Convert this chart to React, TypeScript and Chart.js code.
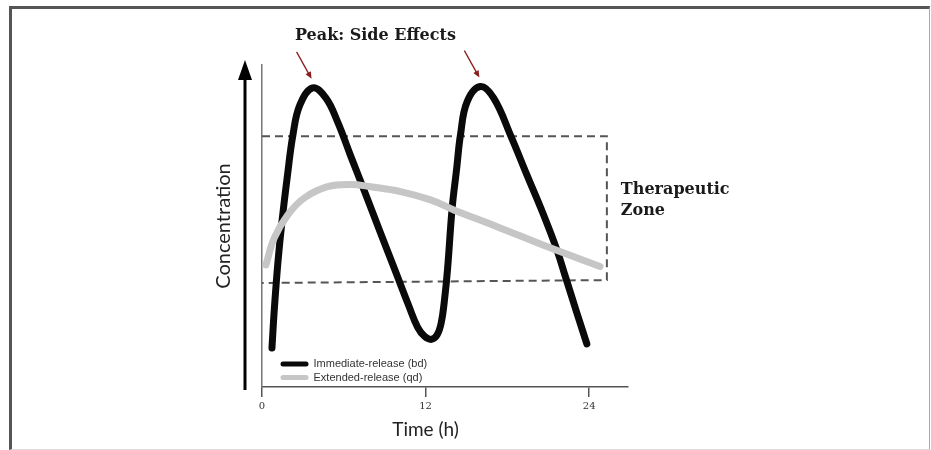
import React, { useEffect, useRef } from "react";
import { Chart, registerables } from "chart.js";

Chart.register(...registerables);

// ---- data ----
const timeTicks = [0, 12, 24];
const timeMax = 26.85;
const concMax = 100;

const immediateTimes = [0.73, 0.91, 1.17, 1.46, 1.87, 2.27, 2.78, 3.71, 4.68, 5.54, 6.51, 7.61, 8.71, 9.81, 10.76, 11.41, 11.93, 12.44, 12.85, 13.15, 13.4, 13.62, 13.95, 14.27, 14.56, 15.05, 16.02, 17.0, 18.22, 19.44, 20.66, 21.64, 22.24, 23.1, 23.83];
const immediateConc = [12.1, 24.5, 38.8, 51.2, 65.8, 78.3, 87.6, 92.9, 89.8, 82.4, 71.7, 59.8, 47.7, 35.7, 25.3, 18.6, 15.7, 14.8, 16.2, 20.0, 27.5, 37.0, 55.6, 67.4, 78.3, 88.6, 93.3, 89.7, 78.3, 65.8, 53.4, 42.5, 34.5, 23.0, 13.4];

const extendedTimes = [0.29, 0.9, 1.88, 3.1, 4.81, 6.51, 7.98, 10.17, 12.37, 14.07, 17.25, 20.9, 24.8];
const extendedConc = [37.9, 46.3, 53.4, 58.7, 62.2, 62.9, 62.2, 60.7, 58.1, 55.0, 49.8, 43.6, 37.4];

const zoneTimes = [0, 25.3, 25.3, 0];
const zoneConc = [77.9, 77.9, 33.2, 32.3];

const seriesLabels = ["Immediate-release (bd)", "Extended-release (qd)"];
const peakLabel = "Peak: Side Effects";
const zoneLabelLines = ["Therapeutic", "Zone"];
const xTitle = "Time (h)";
const yTitle = "Concentration";

const toPoints = (xs: number[], ys: number[]) => xs.map((x, i) => ({ x, y: ys[i] }));

export default function App() {
  const ref = useRef<HTMLCanvasElement>(null);

  useEffect(() => {
    const overlay = {
      id: "overlay",
      afterDraw(chart: any) {
        const ctx = chart.ctx as CanvasRenderingContext2D;
        const { left: L, top: T, bottom: B } = chart.chartArea;
        const xs = chart.scales.x;
        const ys = chart.scales.y;
        ctx.save();

        // big y arrow
        const ax = L - 17;
        ctx.strokeStyle = "#000";
        ctx.fillStyle = "#000";
        ctx.lineWidth = 3;
        ctx.beginPath();
        ctx.moveTo(ax, B + 3);
        ctx.lineTo(ax, T + 14);
        ctx.stroke();
        ctx.beginPath();
        ctx.moveTo(ax, T - 5);
        ctx.lineTo(ax - 7, T + 15);
        ctx.lineTo(ax + 7, T + 15);
        ctx.closePath();
        ctx.fill();

        // y title
        ctx.save();
        ctx.translate(L - 38.5, (T + B) / 2);
        ctx.rotate(-Math.PI / 2);
        ctx.font = "20px Lato";
        ctx.fillStyle = "#222";
        ctx.textAlign = "center";
        ctx.textBaseline = "middle";
        ctx.fillText(yTitle, 0, 0);
        ctx.restore();

        // x title
        ctx.font = "19px Lato";
        ctx.fillStyle = "#222";
        ctx.textAlign = "center";
        ctx.textBaseline = "alphabetic";
        ctx.fillText(xTitle, xs.getPixelForValue(timeTicks[1]), B + 49);

        // legend
        const ds = chart.data.datasets.filter((d: any) => d.label);
        const order = [1, 0];
        order.forEach((di, row) => {
          const d = ds[di];
          if (!d) return;
          const y = B - 23 + row * 13.5;
          ctx.strokeStyle = d.borderColor;
          ctx.lineWidth = 5;
          ctx.lineCap = "round";
          ctx.beginPath();
          ctx.moveTo(L + 21, y);
          ctx.lineTo(L + 44, y);
          ctx.stroke();
          ctx.font = "11px 'Liberation Sans'";
          ctx.fillStyle = "#333";
          ctx.textAlign = "left";
          ctx.textBaseline = "middle";
          ctx.fillText(d.label, L + 51.5, y);
        });

        // peaks & arrows
        const peaks: { x: number; y: number }[] = [];
        for (let i = 1; i < immediateConc.length - 1; i++) {
          if (immediateConc[i] > immediateConc[i - 1] && immediateConc[i] > immediateConc[i + 1]) {
            peaks.push({ x: xs.getPixelForValue(immediateTimes[i]), y: ys.getPixelForValue(immediateConc[i]) });
          }
        }
        ctx.strokeStyle = "#8b1e1e";
        ctx.fillStyle = "#8b1e1e";
        ctx.lineWidth = 1.3;
        ctx.lineCap = "butt";
        peaks.forEach((p) => {
          const tx = p.x - 1;
          const ty = p.y - 9;
          const sx = p.x - 16;
          const sy = p.y - 36;
          const ang = Math.atan2(ty - sy, tx - sx);
          ctx.beginPath();
          ctx.moveTo(sx, sy);
          ctx.lineTo(tx - 4 * Math.cos(ang), ty - 4 * Math.sin(ang));
          ctx.stroke();
          ctx.beginPath();
          ctx.moveTo(tx, ty);
          ctx.lineTo(tx - 7 * Math.cos(ang) + 3 * Math.sin(ang), ty - 7 * Math.sin(ang) - 3 * Math.cos(ang));
          ctx.lineTo(tx - 7 * Math.cos(ang) - 3 * Math.sin(ang), ty - 7 * Math.sin(ang) + 3 * Math.cos(ang));
          ctx.closePath();
          ctx.fill();
        });
        ctx.font = "bold 16px 'DejaVu Serif'";
        ctx.fillStyle = "#1a1a1a";
        ctx.textAlign = "left";
        ctx.textBaseline = "alphabetic";
        ctx.fillText(peakLabel, L + 33, T - 25);

        // therapeutic zone label
        const zx = xs.getPixelForValue(zoneTimes[1]) + 14;
        const zy = ys.getPixelForValue(zoneConc[0]);
        ctx.font = "bold 16px 'DejaVu Serif'";
        zoneLabelLines.forEach((line, i) => ctx.fillText(line, zx, zy + 58 + i * 21));

        ctx.restore();
      },
    };

    const chart = new Chart(ref.current!, {
      type: "line",
      data: {
        datasets: [
          {
            label: seriesLabels[1],
            data: toPoints(extendedTimes, extendedConc),
            borderColor: "#c6c6c6",
            borderWidth: 7,
            pointRadius: 0,
            tension: 0.4,
            borderCapStyle: "round",
            borderJoinStyle: "round",
            fill: false,
          },
          {
            label: seriesLabels[0],
            data: toPoints(immediateTimes, immediateConc),
            borderColor: "#0a0a0a",
            borderWidth: 7,
            pointRadius: 0,
            tension: 0.4,
            borderCapStyle: "round",
            borderJoinStyle: "round",
            fill: false,
          },
          {
            label: "",
            data: toPoints(zoneTimes, zoneConc),
            borderColor: "#555",
            borderWidth: 2,
            borderDash: [8, 5],
            pointRadius: 0,
            tension: 0,
            fill: false,
          },
        ],
      } as any,
      options: {
        animation: false,
        responsive: false,
        devicePixelRatio: 1,
        layout: { padding: { left: 254, top: 65, right: 303, bottom: 35 } },
        plugins: { legend: { display: false }, tooltip: { enabled: false } },
        scales: {
          x: {
            type: "linear",
            min: 0,
            max: timeMax,
            afterBuildTicks: (scale: any) => {
              scale.ticks = timeTicks.map((v) => ({ value: v }));
            },
            grid: { display: true, drawOnChartArea: false, drawTicks: true, tickLength: 10, color: "#555", lineWidth: 1.5 },
            border: { display: true, color: "#555", width: 1.5 },
            ticks: { padding: 3, color: "#333", font: { family: "'DejaVu Serif'", size: 10 }, maxRotation: 0 },
          },
          y: {
            type: "linear",
            min: 0,
            max: concMax,
            grid: { display: false },
            border: { display: true, color: "#777", width: 1.5 },
            ticks: { display: false },
          },
        },
      } as any,
      plugins: [overlay],
    });
    return () => chart.destroy();
  }, []);

  return (
    <div style={{ position: "fixed", left: 0, top: 0, width: 931, height: 450, background: "#fff" }}>
      <div
        style={{
          position: "absolute",
          left: 9,
          top: 6,
          width: 921,
          height: 444,
          boxSizing: "border-box",
          borderTop: "3px solid #555",
          borderLeft: "3px solid #555",
          borderRight: "1px solid #aaa",
          borderBottom: "1px solid #ddd",
        }}
      />
      <canvas ref={ref} width={931} height={450} style={{ position: "absolute", left: 0, top: 0, width: 931, height: 450 }} />
    </div>
  );
}
